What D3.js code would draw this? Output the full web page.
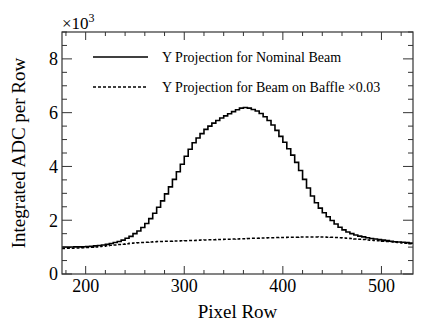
<!DOCTYPE html>
<html>
<head>
<meta charset="utf-8">
<script src="https://cdn.jsdelivr.net/npm/d3@7"></script>
<style>
  body { margin: 0; background: #fff; }
  svg text { font-family: "Liberation Serif", "DejaVu Serif", serif; }
</style>
</head>
<body>
<div id="chart"></div>
<script>
// bins of 4 pixel rows, 176 .. 532
const binLow = d3.range(176, 532, 4);

const nominal = [
  1000, 1000, 1005, 1010, 1010, 1015, 1020, 1030, 1045, 1060,
  1080, 1105, 1135, 1170, 1210, 1260, 1330, 1400, 1500, 1600,
  1730, 1880, 2060, 2260, 2480, 2720, 2980, 3240, 3520, 3800,
  4080, 4380, 4640, 4880, 5060, 5220, 5380, 5500, 5610, 5710,
  5800, 5880, 5960, 6040, 6110, 6170, 6190, 6170, 6120, 6060,
  5970, 5850, 5710, 5540, 5340, 5120, 4900, 4660, 4420, 4150,
  3850, 3520, 3200, 2900, 2650, 2450, 2280, 2130, 1990, 1860,
  1740, 1640, 1560, 1500, 1450, 1410, 1380, 1350, 1320, 1300,
  1280, 1260, 1240, 1220, 1200, 1190, 1180, 1165, 1150
];

const baffle = [
  950, 955, 960, 965, 970, 975, 985, 995, 1005, 1020,
  1035, 1050, 1065, 1080, 1095, 1110, 1125, 1140, 1150, 1160,
  1170, 1180, 1190, 1200, 1205, 1210, 1215, 1220, 1225, 1230,
  1235, 1240, 1245, 1250, 1255, 1260, 1265, 1270, 1275, 1280,
  1285, 1290, 1295, 1300, 1305, 1310, 1315, 1320, 1325, 1330,
  1335, 1340, 1345, 1350, 1353, 1356, 1360, 1363, 1366, 1369,
  1372, 1375, 1377, 1378, 1378, 1377, 1375, 1370, 1365, 1358,
  1350, 1340, 1330, 1318, 1305, 1292, 1280, 1268, 1256, 1245,
  1234, 1222, 1210, 1198, 1185, 1170, 1155, 1140, 1125
];

const xTicks = [200, 300, 400, 500];
const yTicks = [0, 2000, 4000, 6000, 8000];
const legendLabels = ["Y Projection for Nominal Beam", "Y Projection for Beam on Baffle \u00d70.03"];

const width = 436, height = 327;
const margin = { top: 32, right: 23, bottom: 53, left: 62 };
const plotW = width - margin.left - margin.right;
const plotH = height - margin.top - margin.bottom;

const svg = d3.select("#chart").append("svg")
    .attr("width", width)
    .attr("height", height);

const g = svg.append("g")
    .attr("transform", `translate(${margin.left},${margin.top})`);

const x = d3.scaleLinear().domain([176, 532]).range([0, plotW]);
const y = d3.scaleLinear().domain([0, 9000]).range([plotH, 0]);

// step line through bin edges
function stepPoints(vals) {
  const pts = binLow.map((b, i) => [b, vals[i]]);
  pts.push([binLow[binLow.length - 1] + 4, vals[vals.length - 1]]);
  return pts;
}
const line = d3.line()
    .x(d => x(d[0]))
    .y(d => y(d[1]))
    .curve(d3.curveStepAfter);

g.append("path")
    .attr("d", line(stepPoints(baffle)))
    .attr("fill", "none")
    .attr("stroke", "#000")
    .attr("stroke-width", 1.5)
    .attr("stroke-dasharray", "3,2");

g.append("path")
    .attr("d", line(stepPoints(nominal)))
    .attr("fill", "none")
    .attr("stroke", "#000")
    .attr("stroke-width", 1.6);

// frame
g.append("rect")
    .attr("width", plotW)
    .attr("height", plotH)
    .attr("fill", "none")
    .attr("stroke", "#333")
    .attr("stroke-width", 1.2);

// ticks, ROOT style: inside, on all four sides
const xMinor = d3.range(180, 532, 20);
const yMinor = d3.range(0, 9001, 500);
const tickColor = "#333";

xMinor.forEach(v => {
  const major = v % 100 === 0;
  const len = major ? 8 : 4;
  g.append("line").attr("x1", x(v)).attr("x2", x(v))
    .attr("y1", plotH).attr("y2", plotH - len)
    .attr("stroke", tickColor);
  g.append("line").attr("x1", x(v)).attr("x2", x(v))
    .attr("y1", 0).attr("y2", len)
    .attr("stroke", tickColor);
});

yMinor.forEach(v => {
  const major = v % 2000 === 0;
  const len = major ? 10 : 5;
  g.append("line").attr("x1", 0).attr("x2", len)
    .attr("y1", y(v)).attr("y2", y(v))
    .attr("stroke", tickColor);
  g.append("line").attr("x1", plotW).attr("x2", plotW - len)
    .attr("y1", y(v)).attr("y2", y(v))
    .attr("stroke", tickColor);
});

// tick labels
g.selectAll(".xlab").data(xTicks).enter().append("text")
    .attr("x", d => x(d))
    .attr("y", plotH + 18)
    .attr("text-anchor", "middle")
    .style("font-size", "18px")
    .text(d => d);

g.selectAll(".ylab").data(yTicks).enter().append("text")
    .attr("x", -4)
    .attr("y", d => y(d))
    .attr("dy", "0.35em")
    .attr("text-anchor", "end")
    .style("font-size", "18px")
    .text(d => d / 1000);

// exponent
const expo = svg.append("text")
    .attr("x", margin.left)
    .attr("y", 29)
    .style("font-size", "17px");
expo.append("tspan").text("\u00d710");
expo.append("tspan").attr("dy", -7).style("font-size", "12px").text("3");

// axis titles
svg.append("text")
    .attr("x", margin.left + plotW / 2)
    .attr("y", 318)
    .attr("text-anchor", "middle")
    .style("font-size", "19px")
    .text("Pixel Row");

svg.append("text")
    .attr("transform", `translate(25,${margin.top + plotH / 2}) rotate(-90)`)
    .attr("text-anchor", "middle")
    .style("font-size", "19px")
    .text("Integrated ADC per Row");

// legend
const legend = svg.append("g");
legendLabels.forEach((lab, i) => {
  const ly = 57 + i * 30;
  legend.append("line")
      .attr("x1", 93).attr("x2", 148)
      .attr("y1", ly).attr("y2", ly)
      .attr("stroke", "#000")
      .attr("stroke-width", 1.5)
      .attr("stroke-dasharray", i === 0 ? null : "3,2");
  legend.append("text")
      .attr("x", 162)
      .attr("y", ly + 5)
      .style("font-size", "14px")
      .text(lab);
});
</script>
</body>
</html>
